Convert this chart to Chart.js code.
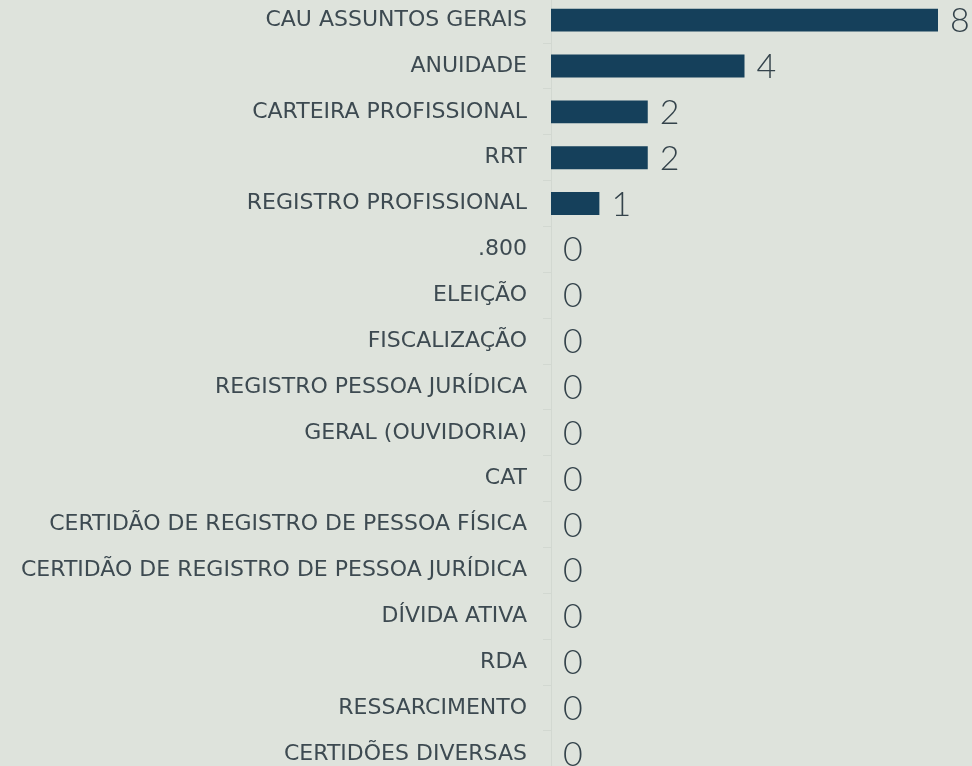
<!DOCTYPE html>
<html>
<head>
<meta charset="utf-8">
<script src="https://cdn.jsdelivr.net/npm/chart.js@4.4.1/dist/chart.umd.min.js"></script>
<style>
  html, body { margin:0; padding:0; background:#dee3dc; overflow:hidden; }
  #wrap { position:absolute; left:0; top:-32px; width:972px; height:838px; }
</style>
</head>
<body>
<div id="wrap"><canvas id="barChart" width="972" height="838"></canvas></div>
<script>
// â€” Data â€”
const categories = [
  'CAU ASSUNTOS GERAIS', 'ANUIDADE', 'CARTEIRA PROFISSIONAL', 'RRT',
  'REGISTRO PROFISSIONAL', '.800', 'ELEIÇÃO', 'FISCALIZAÇÃO',
  'REGISTRO PESSOA JURÍDICA', 'GERAL (OUVIDORIA)', 'CAT',
  'CERTIDÃO DE REGISTRO DE PESSOA FÍSICA', 'CERTIDÃO DE REGISTRO DE PESSOA JURÍDICA',
  'DÍVIDA ATIVA', 'RDA', 'RESSARCIMENTO', 'CERTIDÕES DIVERSAS'
];
const counts = [8, 4, 2, 2, 1, 0, 0, 0, 0, 0, 0, 0, 0, 0, 0, 0, 0];

const textColor = '#3d4a51';
const barColor  = '#15405b';

// draws the value next to each bar
const valueLabels = {
  id: 'valueLabels',
  afterDatasetsDraw(chart) {
    const ctx = chart.ctx;
    const meta = chart.getDatasetMeta(0);
    ctx.save();
    ctx.font = '300 34px Lato';
    ctx.fillStyle = '#34434b';
    ctx.textAlign = 'left';
    ctx.textBaseline = 'middle';
    meta.data.forEach((bar, i) => {
      ctx.fillText(String(counts[i]), bar.x + 12, bar.y + 1);
    });
    ctx.restore();
  }
};

new Chart(document.getElementById('barChart').getContext('2d'), {
  type: 'bar',
  data: {
    labels: categories,
    datasets: [{
      data: counts,
      backgroundColor: barColor,
      barPercentage: 0.5,
      categoryPercentage: 1.0
    }]
  },
  options: {
    indexAxis: 'y',
    responsive: false,
    animation: false,
    layout: { padding: { top: 0, right: 34, bottom: 0, left: 0 } },
    plugins: { legend: { display: false }, tooltip: { enabled: false } },
    scales: {
      x: { display: false, min: 0, max: 8 },
      y: {
        afterFit(scale) { scale.width = 551; },
        border: { color: '#d2d8d1', width: 1 },
        grid: { drawOnChartArea: false, offset: true, tickLength: 8, color: '#d2d8d1' },
        ticks: { color: textColor, padding: 16, font: { family: 'DejaVu Sans', size: 22 } }
      }
    }
  },
  plugins: [valueLabels]
});
</script>
</body>
</html>
